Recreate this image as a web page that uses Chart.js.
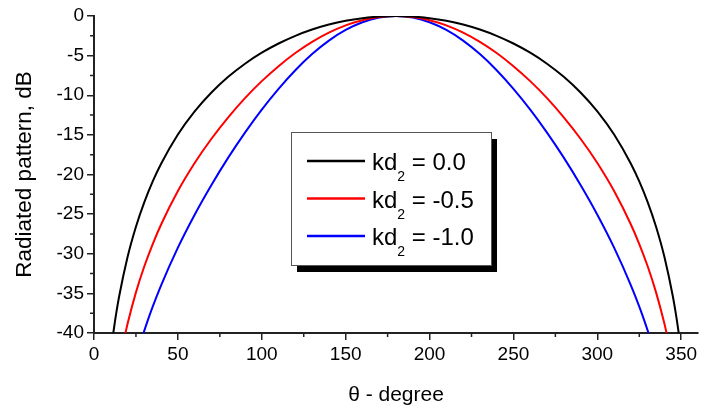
<!DOCTYPE html>
<html>
<head>
<meta charset="utf-8">
<script src="https://cdn.jsdelivr.net/npm/chart.js@4.4.0/dist/chart.umd.min.js"></script>
<style>
  body { margin: 0; background: #fff; }
  #wrap { width: 716px; height: 408px; }
</style>
</head>
<body>
<div id="wrap"><canvas id="graph_pattern" width="716" height="408"></canvas></div>
<script>
/*------------------------------*/
/*     DATA   */
/*------------------------------*/
var labels_kd2 = ['kd₂ = 0.0', 'kd₂ = -0.5', 'kd₂ = -1.0']
var colors_kd2 = ['#000000', '#ff0000', '#0000ff']

// kd2 = 0.0
var theta_0 = [11.5, 13, 15, 20, 25, 30, 35, 40, 50, 60, 70, 80, 90, 100, 110, 120, 130, 140, 150, 160, 170, 180,
               190, 200, 210, 220, 230, 240, 250, 260, 270, 280, 290, 300, 310, 320, 325, 330, 335, 340, 345, 347, 348.5]
var db_0 = [-40, -37.85, -35.37, -30.41, -26.59, -23.48, -20.87, -18.64, -14.96, -12.04, -9.66, -7.68, -6.02, -4.63, -3.47, -2.50, -1.71, -1.08, -0.60, -0.27, -0.07, 0,
            -0.07, -0.27, -0.60, -1.08, -1.71, -2.50, -3.47, -4.63, -6.02, -7.68, -9.66, -12.04, -14.96, -18.64, -20.87, -23.48, -26.59, -30.41, -35.37, -37.85, -40]

// kd2 = -0.5
var theta_1 = [18.75, 20, 25, 30, 35, 40, 50, 60, 70, 80, 90, 100, 110, 120, 130, 140, 150, 160, 170, 180,
               190, 200, 210, 220, 230, 240, 250, 260, 270, 280, 290, 300, 310, 320, 325, 330, 335, 340, 341.25]
var db_1 = [-40, -38.83, -34.87, -31.58, -28.77, -26.31, -22.09, -18.55, -15.49, -12.78, -10.36, -8.22, -6.33, -4.67, -3.26, -2.10, -1.18, -0.53, -0.14, 0,
            -0.14, -0.53, -1.18, -2.10, -3.26, -4.67, -6.33, -8.22, -10.36, -12.78, -15.49, -18.55, -22.09, -26.31, -28.77, -31.58, -34.87, -38.83, -40]

// kd2 = -1.0
var theta_2 = [29.5, 32, 35, 40, 50, 60, 70, 80, 90, 100, 110, 120, 130, 140, 150, 160, 170, 180,
               190, 200, 210, 220, 230, 240, 250, 260, 270, 280, 290, 300, 310, 320, 325, 328, 330.5]
var db_2 = [-40, -38.44, -36.67, -33.98, -29.23, -25.07, -21.32, -17.87, -14.71, -11.81, -9.19, -6.84, -4.81, -3.11, -1.76, -0.79, -0.20, 0,
            -0.20, -0.79, -1.76, -3.11, -4.81, -6.84, -9.19, -11.81, -14.71, -17.87, -21.32, -25.07, -29.23, -33.98, -36.67, -38.44, -40]

var thetas = [theta_0, theta_1, theta_2]
var dbs = [db_0, db_1, db_2]

var FONT = '"Liberation Sans", Arial, sans-serif'
Chart.defaults.font.family = FONT
Chart.defaults.color = '#000'

/*------------------------------*/
/*     PLUGINS                  */
/*------------------------------*/
// minor ticks halfway between the labelled ones
var minorTicks = {
  id: 'minorTicks',
  afterDraw: function (chart) {
    var ctx = chart.ctx, xs = chart.scales.x, ys = chart.scales.y
    ctx.save()
    ctx.strokeStyle = '#222'
    ctx.lineWidth = 1.5
    ctx.beginPath()
    for (var v = 25; v < 360; v += 50) {
      var px = xs.getPixelForValue(v)
      ctx.moveTo(px, xs.top)
      ctx.lineTo(px, xs.top + 4)
    }
    for (var w = -37.5; w < 0; w += 5) {
      var py = ys.getPixelForValue(w)
      ctx.moveTo(ys.right, py)
      ctx.lineTo(ys.right - 4, py)
    }
    ctx.stroke()
    ctx.restore()
  }
}

// legend box with drop shadow and subscript
var boxLegend = {
  id: 'boxLegend',
  afterDraw: function (chart) {
    var ctx = chart.ctx
    var left = 291, top = 132, w = 200, h = 133
    ctx.save()
    ctx.fillStyle = '#000'
    ctx.fillRect(left + 6, top + 7, w, h)
    ctx.fillStyle = '#fff'
    ctx.fillRect(left, top, w, h)
    ctx.strokeStyle = '#555'
    ctx.lineWidth = 1
    ctx.strokeRect(left + 0.5, top + 0.5, w, h)
    chart.data.datasets.forEach(function (ds, i) {
      var y = top + 29 + i * 37.5
      ctx.strokeStyle = ds.borderColor
      ctx.lineWidth = 2.5
      ctx.beginPath()
      ctx.moveTo(307, y)
      ctx.lineTo(365, y)
      ctx.stroke()
      var parts = ds.label.split('₂')
      var tx = 372
      ctx.fillStyle = '#000'
      ctx.textBaseline = 'alphabetic'
      ctx.font = '24px ' + FONT
      ctx.fillText(parts[0], tx, y + 9)
      tx += ctx.measureText(parts[0]).width
      ctx.font = '14px ' + FONT
      ctx.fillText('2', tx, y + 20)
      tx += ctx.measureText('2').width
      ctx.font = '24px ' + FONT
      ctx.fillText(parts[1], tx, y + 9)
    })
    ctx.restore()
  }
}

/*------------------------------*/
/*     CHART                    */
/*------------------------------*/
var ctx_pattern = document.getElementById('graph_pattern').getContext('2d')

var data_pattern = {
  datasets: labels_kd2.map(function (lab, i) {
    return {
      label: lab,
      data: thetas[i].map(function (t, j) { return { x: t, y: dbs[i][j] } }),
      borderColor: colors_kd2[i],
      borderWidth: 2,
      fill: false,
      pointRadius: 0,
      cubicInterpolationMode: 'monotone'
    }
  })
}

var config_pattern = {
  type: 'line',
  data: data_pattern,
  options: {
    responsive: false,
    animation: false,
    layout: { padding: { top: 16, right: 18, left: 0, bottom: 0 } },
    plugins: {
      legend: { display: false },
      tooltip: { enabled: false }
    },
    scales: {
      x: {
        type: 'linear',
        min: 0,
        max: 360,
        ticks: { stepSize: 50, includeBounds: false, font: { size: 19 }, padding: 3, maxRotation: 0 },
        grid: { drawOnChartArea: false, drawTicks: true, tickLength: 7, color: '#222', lineWidth: 1.5 },
        border: { color: '#222', width: 2 },
        title: { display: true, text: 'θ - degree', font: { size: 21 }, padding: { top: 0, bottom: 0 } },
        afterFit: function (s) { s.height = 75 }
      },
      y: {
        min: -40,
        max: 0,
        ticks: { stepSize: 5, font: { size: 19 }, padding: 3 },
        grid: { drawOnChartArea: false, drawTicks: true, tickLength: 7, color: '#222', lineWidth: 1.5 },
        border: { color: '#222', width: 2 },
        title: { display: true, text: 'Radiated pattern, dB', font: { size: 22.5 }, padding: { top: 11, bottom: 0 } },
        afterFit: function (s) { s.width = 94 }
      }
    }
  },
  plugins: [minorTicks, boxLegend]
}
var graph_pattern = new Chart(ctx_pattern, config_pattern)
</script>
</body>
</html>
